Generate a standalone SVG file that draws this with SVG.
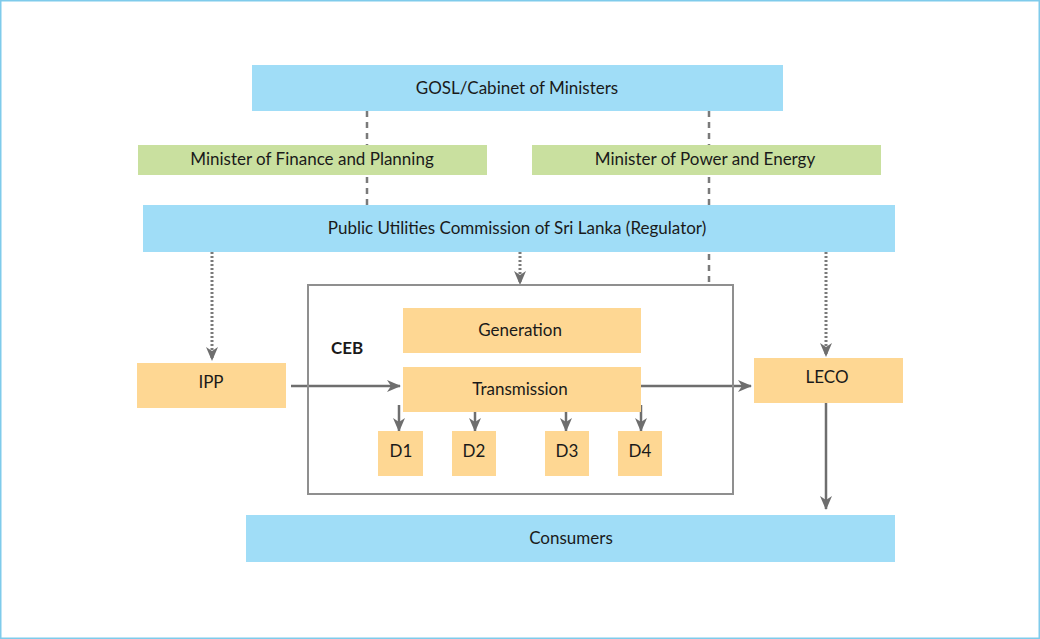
<svg xmlns="http://www.w3.org/2000/svg" width="1040" height="639" viewBox="0 0 1040 639">
<style>
.blue{fill:#a0ddf7}
.green{fill:#c9e09f}
.orange{fill:#fed793}
.t{font-family:Lato,"Open Sans",sans-serif;font-size:17px;fill:#1a1a1a;text-anchor:middle;dominant-baseline:central}
.dash{stroke:#7a7a7a;stroke-width:2.5;stroke-dasharray:6 5;fill:none}
.dot{stroke:#7a7a7a;stroke-width:3;stroke-dasharray:2 2;fill:none}
.solid{stroke:#6e6e6e;stroke-width:2.5;fill:none}
</style>
<defs>
<marker id="arr" viewBox="0 0 14 12" refX="13" refY="6" markerWidth="14" markerHeight="12" markerUnits="userSpaceOnUse" orient="auto">
<path d="M0,0 L14,6 L0,12 L4,6 Z" fill="#6e6e6e"/>
</marker>
</defs>
<rect x="0.75" y="0.75" width="1038.5" height="637.5" fill="#ffffff" stroke="#7fcbeb" stroke-width="1.5"/>
<g id="connectors">
<line class="dash" x1="367" y1="111" x2="367" y2="205"/>
<line class="dash" x1="709" y1="111" x2="709" y2="285"/>
<line class="dot" x1="212" y1="252" x2="212" y2="360" marker-end="url(#arr)"/>
<line class="dot" x1="520" y1="252" x2="520" y2="284" marker-end="url(#arr)"/>
<line class="dot" x1="826" y1="252" x2="826" y2="356" marker-end="url(#arr)"/>
<line class="solid" x1="291" y1="386" x2="400" y2="386" marker-end="url(#arr)"/>
<line class="solid" x1="641" y1="386" x2="751" y2="386" marker-end="url(#arr)"/>
<line class="solid" x1="826" y1="403" x2="826" y2="509" marker-end="url(#arr)"/>
<line class="solid" x1="399" y1="405" x2="399" y2="431" marker-end="url(#arr)"/>
<line class="solid" x1="475" y1="405" x2="475" y2="431" marker-end="url(#arr)"/>
<line class="solid" x1="566" y1="405" x2="566" y2="431" marker-end="url(#arr)"/>
<line class="solid" x1="641" y1="405" x2="641" y2="431" marker-end="url(#arr)"/>
</g>
<g id="gosl"><rect class="blue" x="252" y="65" width="531" height="46"/><text class="t" x="517" y="87">GOSL/Cabinet of Ministers</text></g>
<g id="finance"><rect class="green" x="138" y="145" width="349" height="30"/><text class="t" x="312" y="158.5">Minister of Finance and Planning</text></g>
<g id="power"><rect class="green" x="532" y="145" width="349" height="30"/><text class="t" x="705" y="158.5">Minister of Power and Energy</text></g>
<g id="puc"><rect class="blue" x="143" y="205" width="752" height="47"/><text class="t" x="517" y="227.5">Public Utilities Commission of Sri Lanka (Regulator)</text></g>
<g id="ceb"><rect x="308" y="285" width="425" height="209" fill="none" stroke="#8f8f8f" stroke-width="2"/><text class="t" x="347" y="347" style="font-weight:bold">CEB</text></g>
<g id="generation"><rect class="orange" x="403" y="308" width="238" height="45"/><text class="t" x="520" y="329">Generation</text></g>
<g id="transmission"><rect class="orange" x="403" y="367" width="238" height="45"/><text class="t" x="520" y="388">Transmission</text></g>
<g id="ipp"><rect class="orange" x="137" y="363" width="149" height="45"/><text class="t" x="211" y="381">IPP</text></g>
<g id="leco"><rect class="orange" x="754" y="358" width="149" height="45"/><text class="t" x="827" y="376">LECO</text></g>
<g id="d1"><rect class="orange" x="378" y="431" width="45" height="45"/><text class="t" x="401" y="450">D1</text></g>
<g id="d2"><rect class="orange" x="452" y="431" width="44" height="45"/><text class="t" x="474" y="450">D2</text></g>
<g id="d3"><rect class="orange" x="545" y="431" width="44" height="45"/><text class="t" x="567" y="450">D3</text></g>
<g id="d4"><rect class="orange" x="618" y="431" width="44" height="45"/><text class="t" x="640" y="450">D4</text></g>
<g id="consumers"><rect class="blue" x="246" y="515" width="649" height="47"/><text class="t" x="571" y="537">Consumers</text></g>
</svg>
